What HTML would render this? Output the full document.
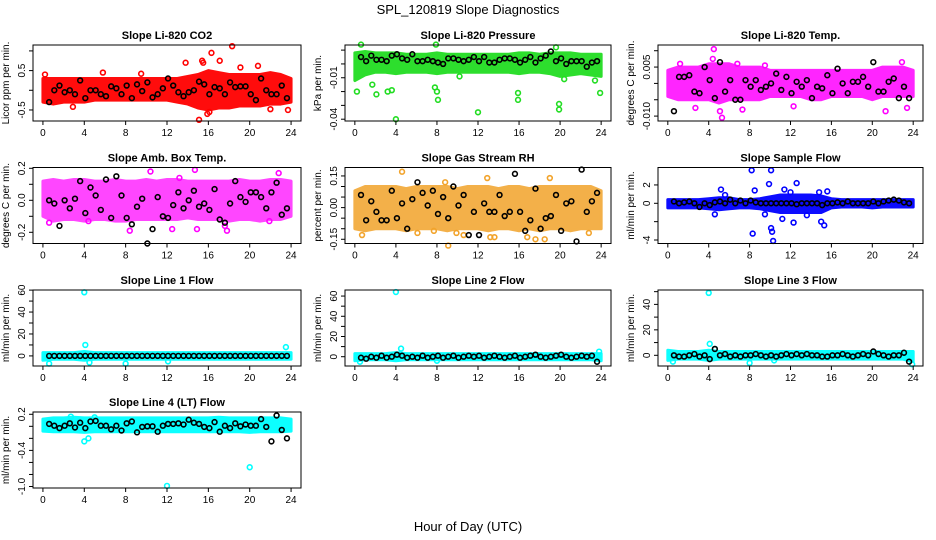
<!DOCTYPE html>
<html><head><meta charset="utf-8">
<style>
html,body{margin:0;padding:0;background:#fff;}
svg{display:block;font-family:"Liberation Sans",sans-serif;}
</style></head>
<body>
<svg id="chart" width="936" height="540" viewBox="0 0 936 540" xmlns="http://www.w3.org/2000/svg">
<text x="468" y="14" text-anchor="middle" font-size="13">SPL_120819  Slope Diagnostics</text>
<text x="468" y="531" text-anchor="middle" font-size="13">Hour of Day (UTC)</text>
</svg>
<script>
const xTicks = [0,4,8,12,16,20,24];
const blackHours = [0.6,1.1,1.6,2.1,2.6,3.1,3.6,4.1,4.6,5.1,5.6,6.1,6.6,7.1,7.6,8.1,8.6,9.1,9.6,10.1,10.6,11.1,11.6,12.1,12.6,13.1,13.6,14.1,14.6,15.1,15.6,16.1,16.6,17.1,17.6,18.1,18.6,19.1,19.6,20.1,20.6,21.1,21.6,22.1,22.6,23.1,23.6];
const bandHours = [0,1,2,3,4,5,6,7,8,9,10,11,12,13,14,15,16,17,18,19,20,21,22,23,24];

const co2Lo = [-0.3,-0.35,-0.3,-0.3,-0.3,-0.25,-0.25,-0.25,-0.25,-0.25,-0.25,-0.25,-0.25,-0.3,-0.35,-0.45,-0.5,-0.45,-0.45,-0.4,-0.4,-0.4,-0.35,-0.35,-0.3];
const co2Hi = [0.3,0.3,0.3,0.3,0.3,0.3,0.3,0.3,0.3,0.3,0.3,0.3,0.3,0.3,0.35,0.4,0.5,0.45,0.4,0.4,0.4,0.4,0.45,0.4,0.3];
const co2Out = [[13.8,0.7],[15.4,0.75],[15.5,0.7],[16.3,0.95],[17.1,0.75],[18.3,1.12],[15.1,-0.75],[15.9,-0.6],[16.1,-0.55],[2.9,-0.42],[19.1,0.58],[20.8,0.62],[23.7,-0.5],[22,-0.48],[0.2,0.4],[5.8,0.45],[9.5,0.42]];
const co2Black = [-0.3,0,0.12,-0.05,0,-0.1,0.25,-0.2,0,0,-0.1,-0.15,0.1,0.05,-0.1,0.12,-0.2,0.15,-0.02,0.2,-0.18,-0.1,0.05,0.3,0.12,-0.05,-0.15,-0.05,0,0.22,0.15,-0.1,0.08,0.05,-0.1,0.2,0.08,0.1,0.1,-0.1,-0.25,0.3,0,-0.1,-0.1,0.12,-0.2];

const presLo = [-0.012,-0.008,-0.006,-0.006,-0.007,-0.006,-0.006,-0.006,-0.007,-0.006,-0.006,-0.006,-0.006,-0.006,-0.006,-0.006,-0.007,-0.006,-0.006,-0.007,-0.009,-0.008,-0.007,-0.008,-0.009];
const presHi = [0.008,0.009,0.008,0.008,0.008,0.007,0.007,0.007,0.008,0.007,0.007,0.007,0.007,0.007,0.007,0.007,0.008,0.008,0.007,0.008,0.008,0.008,0.007,0.007,0.007];
const presOut = [[0.2,-0.02],[1.7,-0.015],[2.1,-0.022],[3.2,-0.02],[3.6,-0.019],[4,-0.04],[7.8,-0.017],[8,-0.02],[8.1,-0.026],[10.2,-0.009],[12,-0.035],[15.9,-0.021],[15.9,-0.026],[19.9,-0.029],[19.9,-0.033],[23.9,-0.021],[0.6,0.014],[7.9,0.014],[19.6,0.012],[23.4,-0.012],[20.4,-0.011]];
const presBlack = [0.005,0.002,0.006,0.003,0.003,0.002,0.006,0.007,0.004,0.003,0.007,0.002,0.002,0.003,0.002,0.001,0.000,0.004,0.004,0.003,0.002,0.003,0.005,0.002,0.005,0.001,0.001,0.003,0.004,0.004,0.003,0.001,0.003,0.005,0.001,0.004,0.006,0.009,0.002,0.004,0.000,0.002,0.002,0.002,-0.002,0.001,0.002];

const tempLo = [-0.004,-0.005,-0.005,-0.005,-0.005,-0.006,-0.005,-0.005,-0.005,-0.005,-0.004,-0.004,-0.004,-0.004,-0.005,-0.005,-0.004,-0.004,-0.004,-0.004,-0.005,-0.004,-0.004,-0.004,-0.004];
const tempHi = [0.004,0.005,0.005,0.005,0.006,0.006,0.006,0.005,0.005,0.005,0.004,0.004,0.004,0.004,0.004,0.004,0.004,0.004,0.004,0.004,0.004,0.005,0.005,0.005,0.004];
const tempOut = [[4.5,0.0105],[4.4,0.0075],[5.3,-0.0105],[2.7,-0.0075],[1.2,0.006],[6.8,0.006],[9.5,0.0055],[22.9,0.0065],[23.4,-0.0075],[21.3,-0.0085],[5.1,-0.0085],[7.3,-0.008],[12.3,-0.007]];
const tempBlack = [-0.0085,0.002,0.002,0.0025,-0.0025,-0.003,0.005,0.001,-0.0045,0.0065,-0.0025,0.001,-0.005,-0.005,0.001,-0.001,0.001,-0.002,-0.001,0,0.003,-0.002,0.002,-0.003,0.0005,-0.001,0.001,-0.0045,-0.001,-0.0015,0.0025,-0.003,0.0045,0,-0.003,0.0005,0.0005,0.002,-0.001,0.0065,-0.0025,-0.0025,0.0005,0.0015,-0.0045,-0.001,-0.0045];

const ambLo = [-0.1,-0.13,-0.12,-0.12,-0.13,-0.12,-0.12,-0.13,-0.13,-0.12,-0.12,-0.12,-0.12,-0.12,-0.11,-0.12,-0.12,-0.12,-0.13,-0.12,-0.12,-0.13,-0.12,-0.12,-0.1];
const ambHi = [0.12,0.13,0.12,0.13,0.13,0.12,0.12,0.13,0.12,0.12,0.13,0.12,0.13,0.13,0.12,0.12,0.12,0.12,0.12,0.13,0.12,0.12,0.13,0.13,0.12];
const ambOut = [[0.6,-0.14],[4.4,-0.13],[8.4,-0.19],[10.4,0.18],[12.5,-0.18],[14.9,-0.18],[14.7,0.19],[17.6,-0.16],[17.8,-0.19],[22.8,0.17],[21.9,-0.13],[13.2,0.14]];
const ambBlack = [0,-0.02,-0.16,0,-0.05,0.01,0.12,-0.08,0.08,0.03,-0.06,0.13,-0.11,0.15,0.03,-0.11,-0.15,-0.04,0.01,-0.27,-0.18,0.02,-0.1,-0.11,-0.03,0.05,-0.05,0,0.06,-0.04,-0.02,-0.06,0.07,-0.12,-0.14,-0.02,0.12,0.02,-0.01,0.05,0.05,0.02,-0.05,0.05,0.11,-0.09,-0.05];

const rhLo = [-0.1,-0.11,-0.1,-0.1,-0.1,-0.11,-0.1,-0.1,-0.1,-0.11,-0.1,-0.1,-0.1,-0.11,-0.1,-0.1,-0.11,-0.1,-0.11,-0.1,-0.1,-0.11,-0.1,-0.1,-0.1];
const rhHi = [0.08,0.1,0.1,0.1,0.1,0.09,0.1,0.1,0.1,0.1,0.09,0.1,0.1,0.1,0.09,0.1,0.1,0.09,0.1,0.1,0.1,0.1,0.1,0.1,0.08];
const rhOut = [[0.7,-0.13],[4.6,0.17],[7.7,-0.11],[9.9,-0.12],[10.6,-0.13],[12.9,0.14],[13.2,-0.14],[13.6,-0.14],[8.8,0.12],[16.8,-0.14],[17.6,-0.15],[18.5,-0.15],[19,0.14],[22.8,-0.12],[6.1,-0.12],[9.1,-0.18]];
const rhBlack = [0.06,-0.06,0.03,-0.02,-0.06,-0.06,0.08,-0.05,0.02,-0.1,0.04,0.12,0.07,0.01,0.08,-0.03,0.05,-0.05,0.1,0.01,0.06,-0.13,-0.02,-0.13,0.02,-0.02,-0.02,0.06,-0.04,-0.02,0.16,-0.02,-0.11,-0.06,0.09,-0.1,-0.05,-0.04,0.06,-0.11,0.02,0.03,-0.16,0.18,-0.02,0.03,0.07];

const flowLo = [-0.5,-0.5,-0.5,-0.5,-0.6,-0.7,-0.6,-0.5,-0.5,-0.6,-0.8,-1.0,-1.0,-1.0,-1.0,-1.0,-0.5,-0.4,-0.4,-0.4,-0.5,-0.4,-0.4,-0.4,-0.4];
const flowHi = [0.4,0.4,0.4,0.4,0.5,0.6,0.6,0.4,0.4,0.5,0.7,0.9,0.9,0.9,0.9,0.8,0.5,0.4,0.4,0.4,0.4,0.4,0.4,0.4,0.4];
const flowOut = [[5.2,1.5],[5.6,0.9],[8.2,3.6],[8.3,-3.3],[8.5,1.4],[9.9,2.1],[10.1,3.6],[10.1,-2.7],[10.2,-3.1],[10.3,-4.1],[11.4,1.5],[11.2,-1.7],[12.3,-2.1],[12.6,2.2],[15,-2],[15.3,-2.4],[15.6,1.3],[12,1.2],[9.5,-1.2],[4.6,-1.2],[13.6,-1.3],[14.8,1.2]];
const flowBlack = [0.2,0,0.1,0.2,0,-0.4,0,-0.2,0.1,0.2,0,0.4,0,0.3,0,0.3,0.1,0,0,0,0,0,0,0,-0.1,0,0,0,0,-0.2,0,0,0.1,0,0.2,0,0,0,0,0.2,0,0.2,0.3,0.4,0.3,0.1,0];

const l1Lo = [-4,-3,-3,-3,-4,-3,-3,-3,-3,-3,-3,-3,-3,-3,-3,-3,-3,-3,-3,-3,-3,-3,-3,-3,-3];
const l1Hi = [3,3,3,3,4,3,3,3,3,3,3,3,3,3,3,3,3,3,3,3,3,3,3,3,3];
const l1Out = [[4,58],[4.1,10],[23.5,8],[8,-7],[4.5,-6],[0.6,-7],[12.1,-5]];
const l1Black = [0,0,0,0,0,0,0,0,0,0,0,0,0,0,0,0,0,0,0,0,0,0,0,0,0,0,0,0,0,0,0,0,0,0,0,0,0,0,0,0,0,0,0,0,0,0,0];

const l2Lo = [-4,-3,-3,-3,-4,-3,-3,-3,-3,-3,-3,-3,-3,-3,-3,-3,-3,-3,-3,-3,-3,-3,-3,-3,-4];
const l2Hi = [3,3,3,3,4,3,3,3,3,3,3,3,3,3,3,3,3,3,3,3,3,3,3,3,3];
const l2Out = [[4,64],[4.5,8],[23.8,5],[0.5,-5],[8,-4]];
const l2Black = [-1,-2,0,-1,1,-1,0,2,1,-1,0,-1,1,-1,0,1,-1,0,1,-1,0,1,0,1,-1,0,1,0,-1,0,1,-1,0,1,2,0,-1,0,1,2,0,-1,0,1,0,1,-5];

const l3Lo = [-4,-3,-3,-3,-4,-3,-3,-3,-3,-3,-3,-3,-3,-3,-3,-3,-3,-3,-3,-3,-3,-3,-3,-3,-5];
const l3Hi = [4,3,3,3,4,3,3,3,3,3,3,3,3,3,3,3,3,3,3,3,3,3,3,3,3];
const l3Out = [[4,49],[4.1,9],[4.6,5],[8,-6],[10.4,-4],[0.5,-5],[23.9,-7]];
const l3Black = [0,-1,-1,0,1,-1,0,-3,5,0,1,-1,0,-1,0,0,1,0,-1,0,-1,0,1,0,1,0,1,0,0,-1,-1,0,0,1,0,-1,0,1,0,3,1,0,-1,0,0,2,-5];

const l4Lo = [-0.08,-0.09,-0.09,-0.09,-0.1,-0.09,-0.09,-0.09,-0.09,-0.09,-0.09,-0.09,-0.09,-0.09,-0.09,-0.09,-0.09,-0.09,-0.09,-0.09,-0.1,-0.09,-0.09,-0.09,-0.08];
const l4Hi = [0.12,0.14,0.14,0.15,0.14,0.14,0.14,0.14,0.14,0.14,0.14,0.14,0.14,0.14,0.14,0.14,0.14,0.15,0.14,0.14,0.14,0.14,0.14,0.14,0.12];
const l4Out = [[12,-0.99],[20,-0.68],[4,-0.25],[4.4,-0.2],[2.7,0.16],[5,0.15]];
const l4Black = [0.04,0.01,-0.03,0.01,0.05,-0.02,0.06,-0.03,0.08,0.09,0.01,0.01,-0.05,0.01,-0.07,0.05,0.08,-0.1,-0.01,0,0,-0.09,0.01,0.04,0.04,0.05,0.03,0.11,0.06,0.04,-0.01,-0.03,0.07,-0.09,0.01,-0.03,0.05,0,0.03,0.01,0.01,0.12,-0.01,-0.25,0.18,-0.06,-0.2];

const colX = [[33,301],[345,611],[658,923]];
const rowTop = [45,167.5,290,412];
const PH = 76;
const NS = "http://www.w3.org/2000/svg";
const svg = document.getElementById('chart');

const panels = [
 {name:'co2',title:'Slope Li-820 CO2',ylab:'Licor ppm per min.',col:0,row:0,color:'#ff0000',op:0.95,ymin:-0.78,ymax:1.15,ticks:[-0.5,0,0.5,1],tl:['-0.5','','0.5',''],lo:co2Lo,hi:co2Hi,out:co2Out,black:co2Black},
 {name:'pressure',title:'Slope Li-820 Pressure',ylab:'kPa per min.',col:1,row:0,color:'#22dd22',op:0.95,ymin:-0.0413,ymax:0.0137,ticks:[-0.04,-0.03,-0.02,-0.01,0,0.01],tl:['-0.04','','','-0.01','',''],lo:presLo,hi:presHi,out:presOut,black:presBlack},
 {name:'li820-temp',title:'Slope Li-820 Temp.',ylab:'degrees C per min.',col:2,row:0,color:'#ff00ff',op:0.85,ymin:-0.0115,ymax:0.01175,ticks:[-0.01,-0.005,0,0.005,0.01],tl:['-0.010','','','0.005',''],lo:tempLo,hi:tempHi,out:tempOut,black:tempBlack},
 {name:'amb-box-temp',title:'Slope Amb. Box Temp.',ylab:'degrees C per min.',col:0,row:1,color:'#ff00ff',op:0.72,ymin:-0.27,ymax:0.205,ticks:[-0.2,-0.1,0,0.1,0.2],tl:['-0.2','','0.0','','0.2'],lo:ambLo,hi:ambHi,out:ambOut,black:ambBlack},
 {name:'gas-stream-rh',title:'Slope Gas Stream RH',ylab:'percent per min.',col:1,row:1,color:'#f2a32a',op:0.85,ymin:-0.17,ymax:0.19,ticks:[-0.15,-0.1,-0.05,0,0.05,0.1,0.15],tl:['-0.15','','','0.00','','','0.15'],lo:rhLo,hi:rhHi,out:rhOut,black:rhBlack},
 {name:'sample-flow',title:'Slope Sample Flow',ylab:'ml/min per min.',col:2,row:1,color:'#0000ff',op:0.95,ymin:-4.38,ymax:3.9,ticks:[-4,-2,0,2],tl:['-4','','0','2'],lo:flowLo,hi:flowHi,out:flowOut,black:flowBlack},
 {name:'line1-flow',title:'Slope Line 1 Flow',ylab:'ml/min per min.',col:0,row:2,color:'#00ffff',op:0.95,ymin:-9.2,ymax:60.1,ticks:[0,10,20,30,40,50,60],tl:['0','','20','','40','','60'],lo:l1Lo,hi:l1Hi,out:l1Out,black:l1Black},
 {name:'line2-flow',title:'Slope Line 2 Flow',ylab:'ml/min per min.',col:1,row:2,color:'#00ffff',op:0.95,ymin:-9.2,ymax:66,ticks:[0,10,20,30,40,50,60],tl:['0','','20','','40','','60'],lo:l2Lo,hi:l2Hi,out:l2Out,black:l2Black},
 {name:'line3-flow',title:'Slope Line 3 Flow',ylab:'ml/min per min.',col:2,row:2,color:'#00ffff',op:0.95,ymin:-8.4,ymax:51.3,ticks:[0,10,20,30,40,50],tl:['0','','20','','40',''],lo:l3Lo,hi:l3Hi,out:l3Out,black:l3Black},
 {name:'line4-flow',title:'Slope Line 4 (LT) Flow',ylab:'ml/min per min.',col:0,row:3,color:'#00ffff',op:0.95,ymin:-1.025,ymax:0.238,ticks:[-1,-0.8,-0.6,-0.4,-0.2,0,0.2],tl:['-1.0','','','-0.4','','','0.2'],lo:l4Lo,hi:l4Hi,out:l4Out,black:l4Black}
];

function mk(tag, attrs, parent){
  const e = document.createElementNS(NS, tag);
  for (const k in attrs) e.setAttribute(k, attrs[k]);
  (parent||svg).appendChild(e);
  return e;
}

panels.forEach(p => {
  const L = colX[p.col][0], R = colX[p.col][1];
  const T = rowTop[p.row], B = T + PH;
  const xs = h => L + (h + 0.96) / 25.92 * (R - L);
  const ys = v => B - (v - p.ymin) / (p.ymax - p.ymin) * PH;
  const g = mk('g', {});
  
  

  const t = mk('text', {x:(L+R)/2, y:T-6, 'text-anchor':'middle', 'font-size':'11', 'font-weight':'bold'}, g);
  
  
  t.textContent = p.title;

  const yl = mk('text', {x:0, y:0, 'text-anchor':'middle', 'font-size':'10', transform:`translate(${L-24},${(T+B)/2}) rotate(-90)`}, g);
  
  
  yl.textContent = p.ylab;

  let pts = bandHours.map((h,i)=>xs(h)+','+ys(p.hi[i]));
  pts = pts.concat(bandHours.map((h,i)=>[h,i]).reverse().map(([h,i])=>xs(h)+','+ys(p.lo[i])));
  const band = mk('polygon', {points:pts.join(' '), fill:p.color, stroke:p.color, 'stroke-width':'3', 'stroke-linejoin':'round', opacity:p.op}, g);
  
  

  p.out.forEach(o => {
    const c = mk('circle', {cx:xs(o[0]), cy:ys(o[1]), r:2.4, fill:'none', stroke:p.color, 'stroke-width':'1.6'}, g);
    
    
  });
  p.black.forEach((v,i) => {
    const c = mk('circle', {cx:xs(blackHours[i]), cy:ys(v), r:2.4, fill:'none', stroke:'#000', 'stroke-width':'1.6'}, g);
    
    
  });

  const box = mk('rect', {x:L, y:T, width:R-L, height:PH, fill:'none', stroke:'#000', 'stroke-width':'1'}, g);
  
  

  xTicks.forEach(h => {
    mk('line', {x1:xs(h), x2:xs(h), y1:B, y2:B+4, stroke:'#000'}, g);
    const tx = mk('text', {x:xs(h), y:B+15, 'text-anchor':'middle', 'font-size':'10'}, g);
    
    
    tx.textContent = h;
  });
  mk('line', {x1:xs(0), x2:xs(24), y1:B, y2:B, stroke:'#000'}, g);
  p.ticks.forEach((v,i) => {
    mk('line', {x1:L-4, x2:L, y1:ys(v), y2:ys(v), stroke:'#000'}, g);
    if (p.tl[i]) {
      const ty = mk('text', {x:0, y:0, 'text-anchor':'middle', 'font-size':'10', transform:`translate(${L-8},${ys(v)}) rotate(-90)`}, g);
      
      
      ty.textContent = p.tl[i];
    }
  });
});
</script>
</body></html>
